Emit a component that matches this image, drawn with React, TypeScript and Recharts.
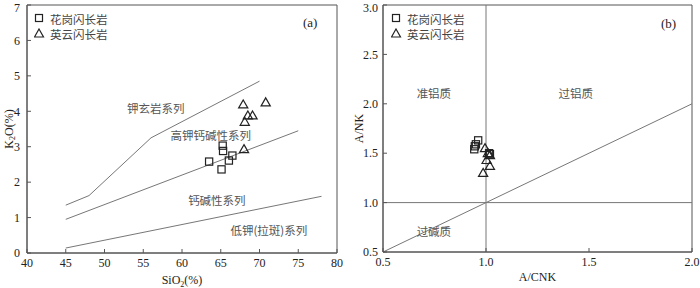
import { ScatterChart, Scatter, XAxis, YAxis, ReferenceArea, ReferenceLine } from 'recharts'

// ---- panel (a): SiO2 vs K2O ----
const siO2Ticks = [40, 45, 50, 55, 60, 65, 70, 75, 80]
const k2oTicks = [0, 1, 2, 3, 4, 5, 6, 7]

const shoshoniteBoundary = [[45, 1.35], [48, 1.62], [56, 3.25], [70, 4.85]]
const highKBoundary = [[45, 0.95], [75, 3.45]]
const lowKBoundary = [[45, 0.14], [78, 1.6]]

const granodioriteA = [[65.25, 3.03], [65.3, 2.88], [66.5, 2.75], [66.05, 2.61], [63.5, 2.58], [65.1, 2.36]]
const tonaliteA = [[67.9, 4.19], [70.8, 4.25], [68.5, 3.88], [69.1, 3.88], [68.1, 3.7], [68.0, 2.93]]

const seriesLabelsA = [
  { x: 56.6, y: 4.09, label: '钾玄岩系列' },
  { x: 63.7, y: 3.33, label: '高钾钙碱性系列' },
  { x: 64.5, y: 1.49, label: '钙碱性系列' },
  { x: 71.2, y: 0.64, label: '低钾(拉斑)系列' },
]

// ---- panel (b): A/CNK vs A/NK ----
const acnkTicks = [0.5, 1.0, 1.5, 2.0]
const anTicks = [0.5, 1.0, 1.5, 2.0, 2.5, 3.0]

const granodioriteB = [[0.962, 1.63], [0.951, 1.59], [0.946, 1.57], [0.943, 1.54], [1.019, 1.49], [1.015, 1.5]]
const tonaliteB = [[0.995, 1.55], [1.019, 1.48], [1.009, 1.5], [1.003, 1.43], [1.019, 1.37], [0.986, 1.3]]

const fieldLabelsB = [
  { x: 0.747, y: 2.11, label: '准铝质' },
  { x: 1.436, y: 2.11, label: '过铝质' },
  { x: 0.747, y: 0.71, label: '过碱质' },
]

const toXY = (pts: number[][]) => pts.map(([x, y]) => ({ x, y }))

const SERIF = '"Liberation Serif", "Times New Roman", serif'
const CJK = '"Noto Sans CJK SC", sans-serif'
const AXIS = '#555'
const LINE = '#777'
const INK = '#222'

const Square = (p: any) => (
  <rect x={p.cx - 3.6} y={p.cy - 3.6} width={7.2} height={7.2} fill="none" stroke={INK} strokeWidth={1.2} />
)

const Triangle = (p: any) => (
  <path
    d={`M${p.cx},${p.cy - 4.6} L${p.cx + 4.6},${p.cy + 3.4} L${p.cx - 4.6},${p.cy + 3.4} Z`}
    fill="none"
    stroke={INK}
    strokeWidth={1.2}
  />
)

const NoDot = () => <g />

const FieldText = (p: any) => (
  <text x={p.cx} y={p.cy} textAnchor="middle" dominantBaseline="central" fontFamily={CJK} fontSize={11.5} fill="#555">
    {p.payload.label}
  </text>
)

const tickStyle = { fontFamily: SERIF, fontSize: 12, fill: INK }

function LegendBox({ left }: { left: number }) {
  const row = { display: 'flex', alignItems: 'center', height: 15 }
  return (
    <div style={{ position: 'absolute', left, top: 11, fontFamily: CJK, fontSize: 11.5, color: '#444' }}>
      <div style={row}>
        <svg width={11} height={11} style={{ marginRight: 5 }}>
          <rect x={1.5} y={1.5} width={7} height={7} fill="none" stroke={INK} strokeWidth={1.2} />
        </svg>
        花岗闪长岩
      </div>
      <div style={row}>
        <svg width={11} height={11} style={{ marginRight: 5 }}>
          <path d="M5,1 L9.5,9 L0.5,9 Z" fill="none" stroke={INK} strokeWidth={1.2} />
        </svg>
        英云闪长岩
      </div>
    </div>
  )
}

function PanelA() {
  return (
    <div style={{ position: 'absolute', left: 0, top: 0, width: 350, height: 288 }}>
      <ScatterChart width={350} height={288} margin={{ top: 5, right: 13, bottom: 0, left: 0 }}>
        <XAxis
          type="number"
          dataKey="x"
          domain={[40, 80]}
          ticks={siO2Ticks}
          height={35}
          stroke={AXIS}
          tickSize={-4}
          tickMargin={9}
          tick={tickStyle}
          label={(props: any) => {
            const vb = props.viewBox
            return (
              <text x={vb.x + vb.width / 2} y={vb.y + 31} textAnchor="middle" fontFamily={SERIF} fontSize={12} fill={INK}>
                SiO<tspan dy={3} fontSize={8}>2</tspan>
                <tspan dy={-3}>(%)</tspan>
              </text>
            )
          }}
        />
        <YAxis
          type="number"
          dataKey="y"
          domain={[0, 7]}
          ticks={k2oTicks}
          width={27}
          stroke={AXIS}
          tickSize={-4}
          tickMargin={11}
          tick={tickStyle}
          label={(props: any) => {
            const vb = props.viewBox
            const cy = vb.y + vb.height / 2
            return (
              <text
                x={9}
                y={cy}
                transform={`rotate(-90 9 ${cy})`}
                textAnchor="middle"
                dominantBaseline="central"
                fontFamily={SERIF}
                fontSize={12}
                fill={INK}
              >
                K<tspan dy={3} fontSize={8}>2</tspan>
                <tspan dy={-3}>O(%)</tspan>
              </text>
            )
          }}
        />
        <ReferenceArea x1={40} x2={80} y1={0} y2={7} fill="none" stroke={AXIS} strokeWidth={1} />
        <Scatter data={toXY(shoshoniteBoundary)} line={{ stroke: LINE, strokeWidth: 1 }} shape={NoDot} isAnimationActive={false} />
        <Scatter data={toXY(highKBoundary)} line={{ stroke: LINE, strokeWidth: 1 }} shape={NoDot} isAnimationActive={false} />
        <Scatter data={toXY(lowKBoundary)} line={{ stroke: LINE, strokeWidth: 1 }} shape={NoDot} isAnimationActive={false} />
        <Scatter data={seriesLabelsA} shape={FieldText} isAnimationActive={false} />
        <Scatter data={toXY(granodioriteA)} shape={Square} isAnimationActive={false} />
        <Scatter data={toXY(tonaliteA)} shape={Triangle} isAnimationActive={false} />
      </ScatterChart>
      <LegendBox left={34} />
      <div style={{ position: 'absolute', left: 303, top: 15, fontFamily: SERIF, fontSize: 13, color: INK }}>(a)</div>
    </div>
  )
}

function PanelB() {
  return (
    <div style={{ position: 'absolute', left: 350, top: 0, width: 350, height: 288 }}>
      <ScatterChart width={350} height={288} margin={{ top: 5, right: 8, bottom: 0, left: 0 }}>
        <XAxis
          type="number"
          dataKey="x"
          domain={[0.5, 2.0]}
          ticks={acnkTicks}
          height={36}
          stroke={AXIS}
          tickSize={-4}
          tickMargin={9}
          tick={tickStyle}
          tickFormatter={(v: number) => v.toFixed(1)}
          label={(props: any) => {
            const vb = props.viewBox
            return (
              <text x={vb.x + vb.width / 2} y={vb.y + 29} textAnchor="middle" fontFamily={SERIF} fontSize={12} fill={INK}>
                A/CNK
              </text>
            )
          }}
        />
        <YAxis
          type="number"
          dataKey="y"
          domain={[0.5, 3.0]}
          ticks={anTicks}
          width={33}
          stroke={AXIS}
          tickSize={-4}
          tickMargin={9}
          tick={tickStyle}
          tickFormatter={(v: number) => v.toFixed(1)}
          label={(props: any) => {
            const vb = props.viewBox
            const cy = vb.y + vb.height / 2
            return (
              <text
                x={9}
                y={cy}
                transform={`rotate(-90 9 ${cy})`}
                textAnchor="middle"
                dominantBaseline="central"
                fontFamily={SERIF}
                fontSize={12}
                fill={INK}
              >
                A/NK
              </text>
            )
          }}
        />
        <ReferenceArea x1={0.5} x2={2.0} y1={0.5} y2={3.0} fill="none" stroke={AXIS} strokeWidth={1} />
        <ReferenceLine x={1.0} stroke={LINE} />
        <ReferenceLine y={1.0} stroke={LINE} />
        <ReferenceLine segment={[{ x: 0.5, y: 0.5 }, { x: 2.0, y: 2.0 }]} stroke={LINE} />
        <Scatter data={fieldLabelsB} shape={FieldText} isAnimationActive={false} />
        <Scatter data={toXY(granodioriteB)} shape={Square} isAnimationActive={false} />
        <Scatter data={toXY(tonaliteB)} shape={Triangle} isAnimationActive={false} />
      </ScatterChart>
      <LegendBox left={41} />
      <div style={{ position: 'absolute', left: 311, top: 16, fontFamily: SERIF, fontSize: 13, color: INK }}>(b)</div>
    </div>
  )
}

export default function App() {
  return (
    <div style={{ position: 'absolute', left: 0, top: 0, width: 700, height: 288, background: '#fff' }}>
      <PanelA />
      <PanelB />
    </div>
  )
}
